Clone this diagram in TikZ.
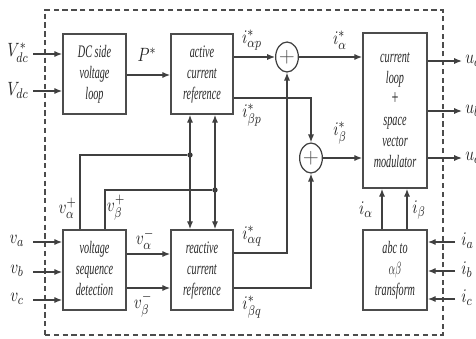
\documentclass[tikz,border=0pt]{standalone}
\usepackage{fontspec}
\setmainfont{Liberation Serif}
\usepackage{graphicx}
\usetikzlibrary{arrows.meta,shapes.geometric}
\newcommand{\sqz}[1]{\scalebox{0.58}[1]{\itshape\begin{tabular}{@{}c@{}}#1\end{tabular}}}
\newcommand{\lb}[1]{\scalebox{0.8}[1]{$#1$}}
\begin{document}
\begin{tikzpicture}[x=0.02cm,y=-0.02cm,
 ln/.style={line width=0.7pt, draw=black!75},
 arr/.style={ln,-{Latex[length=4.5pt,width=3.5pt]}},
 darr/.style={ln,{Latex[length=4.5pt,width=3.5pt]}-{Latex[length=4.5pt,width=3.5pt]}},
 blk/.style={draw=black!70, line width=0.9pt, minimum width=1.26cm, minimum height=1.6cm, inner sep=0pt, font=\fontsize{10}{12}\selectfont, text=black!85},
 sumn/.style={ellipse, draw=black!75, line width=0.7pt, minimum width=0.4cm, minimum height=0.6cm, inner sep=0pt, font=\fontsize{13}{13}\selectfont, text=black!70},
 lbl/.style={inner sep=0pt, font=\fontsize{11}{13}\selectfont, text=black!85},
 dotn/.style={circle, fill=black!80, inner sep=0pt, minimum size=3pt}]
\useasboundingbox (0,0) rectangle (476,338);
% frame
\node[draw=black!70, dashed, dash pattern=on 3pt off 2pt, line width=0.7pt, minimum width=7.96cm, minimum height=6.5cm, inner sep=0pt] (frame) at (244,172.5) {};
% blocks
\node[blk] (dcl) at (94.5,74) {\sqz{DC side\\voltage\\loop}};
\node[blk, minimum width=1.24cm] (acr) at (202,74) {\sqz{active\\current\\reference}};
\node[blk] (vsd) at (94.5,270) {\sqz{voltage\\sequence\\detection}};
\node[blk, minimum width=1.24cm] (rcr) at (202,270) {\sqz{reactive\\current\\reference}};
\node[blk, minimum width=1.28cm, minimum height=3.1cm] (clm) at (395,110.5) {\sqz{current\\loop\\{\large +}\\space\\vector\\modulator}};
\node[blk, minimum width=1.28cm] (abc) at (395,270) {\sqz{abc to\\$\alpha\beta$\\transform}};
% summing junctions
\node[sumn] (s1) at (287,57) {$+$};
\node[sumn] (s2) at (311,158) {$+$};
% input coordinates
\coordinate (vdcs) at (33,54);
\coordinate (vdc) at (33,91);
\coordinate (va) at (33,242);
\coordinate (vb) at (33,272);
\coordinate (vc) at (33,300);
\coordinate (ia) at (455,242);
\coordinate (ib) at (455,271);
\coordinate (ic) at (455,299);
\coordinate (ua) at (462,61);
\coordinate (ub) at (462,111);
\coordinate (uc) at (462,158);
% top inputs
\draw[arr] (vdcs) -- (vdcs -| dcl.west);
\draw[arr] (vdc) -- (vdc -| dcl.west);
\draw[arr] (dcl.east |- 0,75) -- (acr.west |- 0,75);
% active outputs
\draw[arr] (acr.east |- s1) -- (s1.west);
\coordinate (bp) at (311,98);
\draw[arr] (acr.east |- bp) -- (bp) -- (s2.north);
\draw[arr] (s1.east) -- (clm.west |- s1);
\draw[arr] (s2.east) -- (clm.west |- s2);
% outputs u
\draw[arr] (clm.east |- ua) -- (ua);
\draw[arr] (clm.east |- ub) -- (ub);
\draw[arr] (clm.east |- uc) -- (uc);
% abc inputs
\draw[arr] (ia) -- (ia -| abc.east);
\draw[arr] (ib) -- (ib -| abc.east);
\draw[arr] (ic) -- (ic -| abc.east);
% feedback currents
\draw[arr] (abc.north -| 382,0) -- (clm.south -| 382,0);
\draw[arr] (abc.north -| 407,0) -- (clm.south -| 407,0);
% voltage inputs
\draw[arr] (va) -- (va -| vsd.west);
\draw[arr] (vb) -- (vb -| vsd.west);
\draw[arr] (vc) -- (vc -| vsd.west);
% negative sequence
\draw[arr] (vsd.east |- 0,254) -- (rcr.west |- 0,254);
\draw[arr] (vsd.east |- 0,288) -- (rcr.west |- 0,288);
% reactive outputs
\coordinate (aq) at (287,253);
\coordinate (bq) at (311,288);
\draw[arr] (rcr.east |- aq) -- (aq) -- (s1.south);
\draw[arr] (rcr.east |- bq) -- (bq) -- (s2.south);
% positive sequence feedback
\node[dotn] (d1) at (190,155) {};
\node[dotn] (d2) at (215,190) {};
\draw[ln] (vsd.north -| 80,0) -- (80,155) -- (d1);
\draw[ln] (vsd.north -| 105,0) -- (105,190) -- (d2);
\draw[darr] (acr.south -| d1) -- (rcr.north -| d1);
\draw[darr] (acr.south -| d2) -- (rcr.north -| d2);
% labels
\node[lbl] (lvdcs) at (18,53) {\lb{V_{dc}^{*}}};
\node[lbl] (lvdc) at (18,90) {\lb{V_{dc}}};
\node[lbl] (lva) at (17,241) {\lb{v_a}};
\node[lbl] (lvb) at (17,271) {\lb{v_b}};
\node[lbl] (lvc) at (17,299) {\lb{v_c}};
\node[lbl] (lp) at (147,55) {\lb{P^{*}}};
\node[lbl, anchor=east] (lvpa) at (77,208) {\lb{v_{\alpha}^{+}}};
\node[lbl] (lvpb) at (116,208) {\lb{v_{\beta}^{+}}};
\node[lbl] (lvma) at (145,239) {\lb{v_{\alpha}^{-}}};
\node[lbl] (lvmb) at (143,305) {\lb{v_{\beta}^{-}}};
\node[lbl] (liap) at (252,40) {\lb{i_{\alpha p}^{*}}};
\node[lbl] (libp) at (252,115) {\lb{i_{\beta p}^{*}}};
\node[lbl] (lia) at (340,40) {\lb{i_{\alpha}^{*}}};
\node[lbl] (lib) at (340,133) {\lb{i_{\beta}^{*}}};
\node[lbl] (liaq) at (252,236) {\lb{i_{\alpha q}^{*}}};
\node[lbl] (libq) at (252,307) {\lb{i_{\beta q}^{*}}};
\node[lbl] (lfa) at (366,210) {\lb{i_{\alpha}}};
\node[lbl] (lfb) at (419,210) {\lb{i_{\beta}}};
\node[lbl, anchor=west] (lua) at (465,61) {\lb{u_a}};
\node[lbl, anchor=west] (lub) at (465,111) {\lb{u_b}};
\node[lbl, anchor=west] (luc) at (465,158) {\lb{u_c}};
\node[lbl, anchor=west] (lia2) at (461,241) {\lb{i_a}};
\node[lbl, anchor=west] (lib2) at (461,270) {\lb{i_b}};
\node[lbl, anchor=west] (lic2) at (461,298) {\lb{i_c}};
\end{tikzpicture}
\end{document}
